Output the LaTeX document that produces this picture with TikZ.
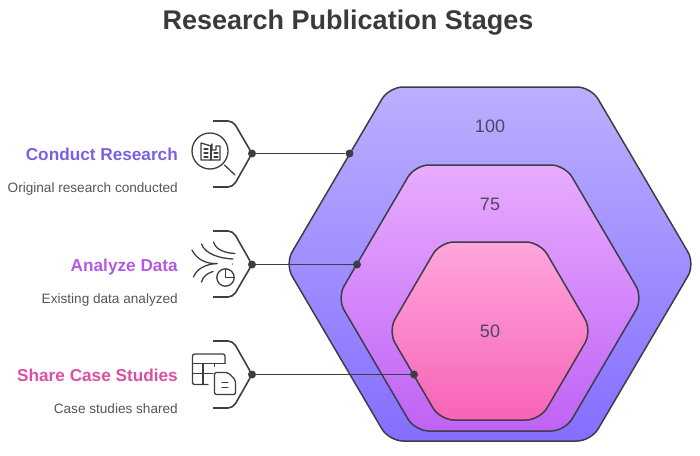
\documentclass[tikz,border=0pt]{standalone}
\usepackage{fontspec}
\setmainfont{Liberation Sans}
\definecolor{ink}{HTML}{3D3D45}
\definecolor{numink}{HTML}{4F4566}
\definecolor{subink}{HTML}{555555}
\definecolor{titleink}{HTML}{3A3A3A}
\definecolor{aTop}{HTML}{BBAFFF}\definecolor{aBot}{HTML}{846EFF}
\definecolor{bTop}{HTML}{E8ACFF}\definecolor{bBot}{HTML}{BF62F5}
\definecolor{cTop}{HTML}{FFA6DC}\definecolor{cBot}{HTML}{F763B6}
\definecolor{headA}{HTML}{7B5FE6}\definecolor{headB}{HTML}{B45AE2}\definecolor{headC}{HTML}{DB4FA6}
\tikzset{
  hexa/.style={draw=ink,line width=1.5pt,rounded corners=14pt,shading angle=0},
  wire/.style={draw=ink,line width=1.6pt},
  brace/.style={draw=ink,line width=1.6pt,rounded corners=5pt},
  icon/.style={draw=ink,line width=1.3pt,line cap=round,line join=round},
  dot/.style={circle,fill=ink,inner sep=0pt,minimum size=8pt},
  headtxt/.style={anchor=base east,font=\fontsize{17.2}{20}\selectfont\bfseries,inner sep=0pt},
  subtxt/.style={anchor=base east,font=\fontsize{13.6}{15}\selectfont,text=subink,inner sep=0pt},
  numtxt/.style={font=\fontsize{18}{20}\selectfont,text=numink,inner sep=0pt},
}
\begin{document}
\begin{tikzpicture}[x=1pt,y=-1pt]
\useasboundingbox (0,0) rectangle (700,455);
\node[font=\fontsize{27}{30}\selectfont\bfseries,text=titleink,inner sep=0pt] (title) at (348,23) {Research Publication Stages};
% hexagons
\shade[hexa,top color=aTop,bottom color=aBot] (389,87)--(591,87)--(695,264)--(591,441)--(389,441)--(285,264)--cycle;
\shade[hexa,top color=bTop,bottom color=bBot] (415,165)--(565,165)--(643,298)--(565,431)--(415,431)--(337,298)--cycle;
\shade[hexa,top color=cTop,bottom color=cBot] (440,242)--(540,242)--(592,331)--(540,420)--(440,420)--(388,331)--cycle;
\node[numtxt] (n100) at (490,126) {100};
\node[numtxt] (n75) at (490,204) {75};
\node[numtxt] (n50) at (490,331) {50};
% ports
\node[dot] (p1) at (252,153.5) {};
\node[dot] (p2) at (252,264.5) {};
\node[dot] (p3) at (252,374.5) {};
\node[dot] (q1) at (349.5,153.5) {};
\node[dot] (q2) at (357,264.5) {};
\node[dot] (q3) at (414,374.5) {};
\draw[wire] (p1) -- (q1);
\draw[wire] (p2) -- (q2);
\draw[wire] (p3) -- (q3);
% braces
\draw[brace] (213,121)--(233,121)--(p1.center)--(233,187)--(213,187);
\draw[brace] (213,231)--(233,231)--(p2.center)--(233,297)--(213,297);
\draw[brace] (213,341)--(233,341)--(p3.center)--(233,408)--(213,408);
% labels
\node[headtxt,text=headA] (h1) at (178,160) {Conduct Research};
\node[subtxt] (s1) at (178,192) {Original research conducted};
\node[headtxt,text=headB] (h2) at (178,271) {Analyze Data};
\node[subtxt] (s2) at (178,303) {Existing data analyzed};
\node[headtxt,text=headC] (h3) at (178,381) {Share Case Studies};
\node[subtxt] (s3) at (178,413) {Case studies shared};
% icon 1
\draw[icon] (210,151) circle (18);
\draw[icon] (224.5,165)--(235,175);
\draw[icon] (201,143)--(201,160)--(220,160)--(220,146)--(216,146)--(216,150)--(212,150)--(212,144)--(211,146)--(201,143);
\draw[icon] (211,146)--(211,160);
\draw[icon] (204,149)--(208,149) (204,153)--(208,153) (204,157)--(208,157);
\draw[icon] (214,153)--(218,153) (214,157)--(218,157);
% icon 2
\draw[icon] (192,250) .. controls (197,260) and (207,264) .. (217,263.5);
\draw[icon] (201.5,244) .. controls (205,254) and (220,258.5) .. (233,259);
\draw[icon] (213.5,242) .. controls (216,250) and (225,253) .. (235,253.5);
\draw[icon] (193.5,277) .. controls (197,268) and (207,264) .. (217,263.5);
\draw[icon] (201.5,282) .. controls (203,276) and (208,273) .. (213,271.5);
\draw[icon] (225.5,277.5) circle (8.7);
\draw[icon] (225.5,268.8)--(225.5,277.5)--(234.2,277.5);
\fill[ink] (232.5,264) circle (0.7);
% icon 3
\draw[icon,rounded corners=2pt] (225,363.5)--(225,354)--(192.5,354)--(192.5,384.5)--(208,384.5);
\draw[icon] (192.5,363.5)--(225,363.5);
\draw[icon] (203,363.5)--(203,384.5);
\draw[icon] (192.5,373.5)--(213,373.5);
\draw[icon] (214.5,363.5)--(214.5,366.5);
\draw[icon,rounded corners=2pt] (214.5,372.5)--(228,372.5)--(235.5,380)--(235.5,394.5)--(214.5,394.5)--cycle;
\draw[icon] (222,382.5)--(228,382.5) (222,387.5)--(228,387.5);
\end{tikzpicture}
\end{document}
